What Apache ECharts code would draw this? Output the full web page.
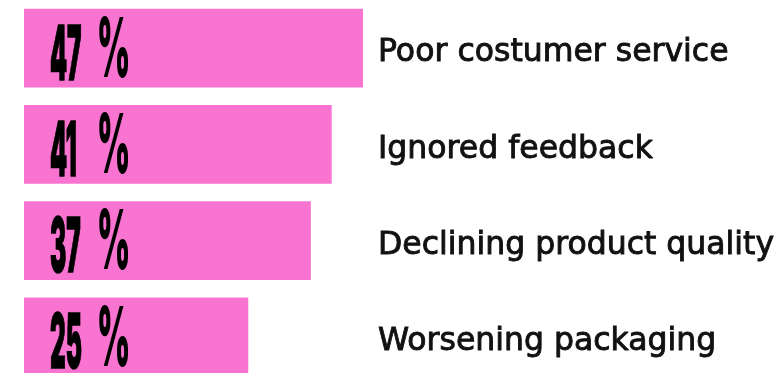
<!DOCTYPE html>
<html>
<head>
<meta charset="utf-8">
<script src="https://cdn.jsdelivr.net/npm/echarts@6/dist/echarts.min.js"></script>
<style>
  html, body { margin: 0; padding: 0; background: #ffffff; }
  #chart { width: 782px; height: 373px; }
</style>
</head>
<body>
<div id="chart"></div>
<script>
// Reasons for customer churn and the share of respondents naming each
const categories = ['Poor costumer service', 'Ignored feedback', 'Declining product quality', 'Worsening packaging'];
const shares = [47, 41, 37, 25];

// Value axis range; bars are drawn from the axis minimum
const AXIS_MIN = -18;
const AXIS_MAX = 47;

const PINK = '#f974d0';
const BAR_RATIO = 0.817;   // bar thickness as a share of the category band

const chart = echarts.init(document.getElementById('chart'));

function renderBar(params, api) {
  const v = api.value(0);
  const idx = api.value(1);
  const start = api.coord([AXIS_MIN, idx]);
  const end = api.coord([v, idx]);
  const edge = api.coord([AXIS_MAX, idx]);
  const band = api.size([0, 1])[1];
  const h = band * BAR_RATIO;
  return {
    type: 'group',
    children: [
      {
        type: 'rect',
        shape: { x: start[0], y: start[1] - h / 2, width: end[0] - start[0], height: h },
        style: { fill: PINK }
      },
      {
        // tall condensed figure
        type: 'text',
        x: start[0] + 26,
        y: start[1] + 9,
        scaleX: 0.325,
        style: {
          text: String(v),
          fontFamily: 'Inter',
          fontWeight: 900,
          fontSize: 75,
          fill: '#000000',
          stroke: '#000000',
          lineWidth: 1.5,
          align: 'left',
          verticalAlign: 'middle'
        }
      },
      {
        // percent sign, a little taller than the digits
        type: 'text',
        x: start[0] + 73,
        y: start[1] + 4,
        scaleX: 0.39,
        style: {
          text: '%',
          fontFamily: 'Inter',
          fontWeight: 900,
          fontSize: 82,
          fill: '#000000',
          align: 'left',
          verticalAlign: 'middle'
        }
      },
      {
        // category name to the right of the plot area
        type: 'text',
        x: edge[0] + 15,
        y: start[1] + 5,
        style: {
          text: categories[idx],
          fontFamily: '"DejaVu Sans", sans-serif',
          fontWeight: 'normal',
          fontSize: 31.5,
          fill: '#111111',
          stroke: '#111111',
          lineWidth: 0.9,
          align: 'left',
          verticalAlign: 'middle'
        }
      }
    ]
  };
}

chart.setOption({
  animation: false,
  grid: { left: 24, right: 419, top: 0, height: 385, outerBoundsMode: 'none', containLabel: false },
  xAxis: {
    type: 'value',
    min: AXIS_MIN,
    max: AXIS_MAX,
    show: false
  },
  yAxis: {
    type: 'category',
    data: categories,
    inverse: true,
    show: false
  },
  series: [
    {
      type: 'custom',
      data: shares.map((v, i) => [v, i]),
      encode: { x: 0, y: 1 },
      silent: true,
      clip: false,
      renderItem: renderBar
    }
  ]
});
</script>
</body>
</html>
